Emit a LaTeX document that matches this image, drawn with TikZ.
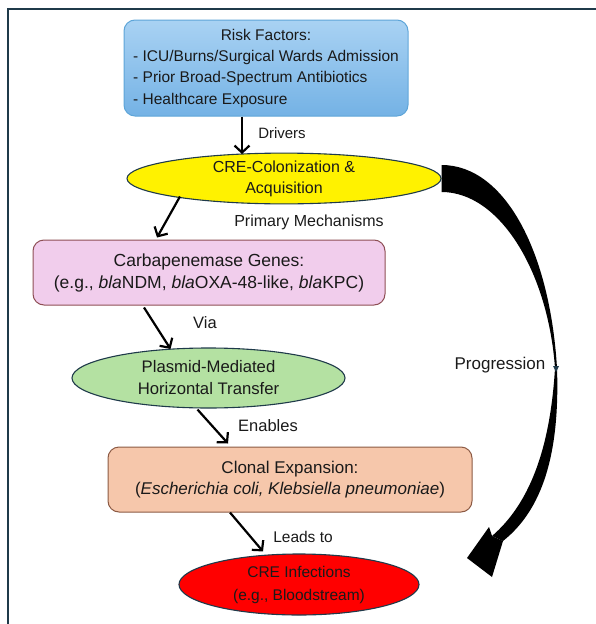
\documentclass[tikz,border=0pt]{standalone}
\usepackage{fontspec}
\setmainfont{Liberation Sans}
\usetikzlibrary{shapes.geometric,arrows.meta,calc}
\definecolor{frameC}{HTML}{1F3A4A}
\definecolor{txtC}{HTML}{1A1A1A}
\definecolor{riskTop}{HTML}{A9D2F3}
\definecolor{riskBot}{HTML}{74B2E5}
\definecolor{riskBd}{HTML}{5EA5D8}
\definecolor{genesF}{HTML}{F1CDEC}
\definecolor{genesBd}{HTML}{8E4F55}
\definecolor{plasF}{HTML}{B4E1A2}
\definecolor{clonF}{HTML}{F6C7AB}
\definecolor{clonBd}{HTML}{8C5A44}
\tikzset{
  rbox/.style={rectangle, rounded corners=11pt, line width=1pt, align=center, inner sep=0pt, text=txtC},
  ell/.style={ellipse, line width=1.1pt, draw=frameC, align=center, inner sep=0pt, text=txtC},
  lbl/.style={inner sep=0pt, text=txtC},
  arr/.style={-{Straight Barb[length=7pt,width=15pt,line width=2.2pt]}, line width=2.2pt, black},
}
\begin{document}
\begin{tikzpicture}[x=1pt,y=-1pt]
\useasboundingbox (0,0) rectangle (595,624);
\draw[frameC, line width=2pt] (8,625) -- (8,8.5) -- (596,8.5);

% nodes
\node[rbox, draw=riskBd, top color=riskTop, bottom color=riskBot, minimum width=284pt, minimum height=96pt,
  font=\fontsize{15.5}{21.3}\selectfont]
  (risk) at (266,68) {\begin{tabular}{@{}l@{}}\multicolumn{1}{@{}c@{}}{Risk Factors:}\\- ICU/Burns/Surgical Wards Admission\\- Prior Broad-Spectrum Antibiotics\\- Healthcare Exposure\end{tabular}};
\node[ell, fill=yellow, minimum width=314pt, minimum height=47pt, font=\fontsize{16}{21}\selectfont]
  (colon) at (284,178.5) {CRE-Colonization \&\\Acquisition};
\node[rbox, draw=genesBd, fill=genesF, minimum width=352pt, minimum height=65pt, font=\fontsize{17.5}{22}\selectfont]
  (genes) at (209,272.5) {Carbapenemase Genes:\\(e.g., \textit{bla}NDM, \textit{bla}OXA-48-like, \textit{bla}KPC)};
\node[ell, fill=plasF, minimum width=273pt, minimum height=60pt, font=\fontsize{16.7}{22}\selectfont]
  (plas) at (208.5,378) {Plasmid-Mediated\\Horizontal Transfer};
\node[rbox, draw=clonBd, fill=clonF, minimum width=364pt, minimum height=65pt, font=\fontsize{17}{21}\selectfont]
  (clon) at (290,479.5) {Clonal Expansion:\\(\textit{Escherichia coli, Klebsiella pneumoniae})};
\node[ell, fill=red, minimum width=240pt, minimum height=61pt, font=\fontsize{15.5}{23}\selectfont]
  (inf) at (299,584.5) {CRE Infections\\(e.g., Bloodstream)};

% labels
\node[lbl, font=\fontsize{15}{18}\selectfont] (lDrivers) at (282,133) {Drivers};
\node[lbl, font=\fontsize{16}{18}\selectfont] (lPrim) at (309,222) {Primary Mechanisms};
\node[lbl, font=\fontsize{16.5}{18}\selectfont] (lVia) at (205,323) {Via};
\node[lbl, font=\fontsize{16.5}{18}\selectfont] (lEnab) at (268,426) {Enables};
\node[lbl, font=\fontsize{15.5}{18}\selectfont] (lLead) at (303,537) {Leads to};
\node[lbl, font=\fontsize{17}{18}\selectfont] (lProg) at (500,365) {Progression};

% straight connectors
\draw[arr] ($(risk.south)+(-24,0)$) -- ($(colon.north)+(-42,1.5)$);
\draw[arr] ($(colon.center)+(-104,18)$) -- ($(genes.north)+(-52,-2)$);
\draw[arr] ($(genes.south)+(-65,2)$) -- ($(plas.north)+(-38,1.5)$);
\draw[arr] ($(plas.south)+(-11,1)$) -- ($(clon.north)+(-62,-3)$);
\draw[arr] ($(clon.south)+(-60,0)$) -- ($(inf.north)+(-36,-2)$);

% progression curved tapered arrow
\coordinate (pS) at (colon.east);
\fill[black] ($(pS)+(0,-13.5)$) .. controls (505,165) and (550,252) .. (557,368)
   -- (555,368) .. controls (548,272) and (500,192) .. ($(pS)+(0,13.5)$) -- cycle;
\fill[black] (557,368) .. controls (560,455) and (542,510) .. (503,541)
   -- (492,536) .. controls (528,505) and (550,452) .. (555,368) -- cycle;
\fill[black] (467,558) -- (489,527) -- (492,536) -- (503,541) -- (492,577) -- cycle;
\fill[frameC] (553,366) -- (559,366) -- (556,372) -- cycle;
\end{tikzpicture}
\end{document}
